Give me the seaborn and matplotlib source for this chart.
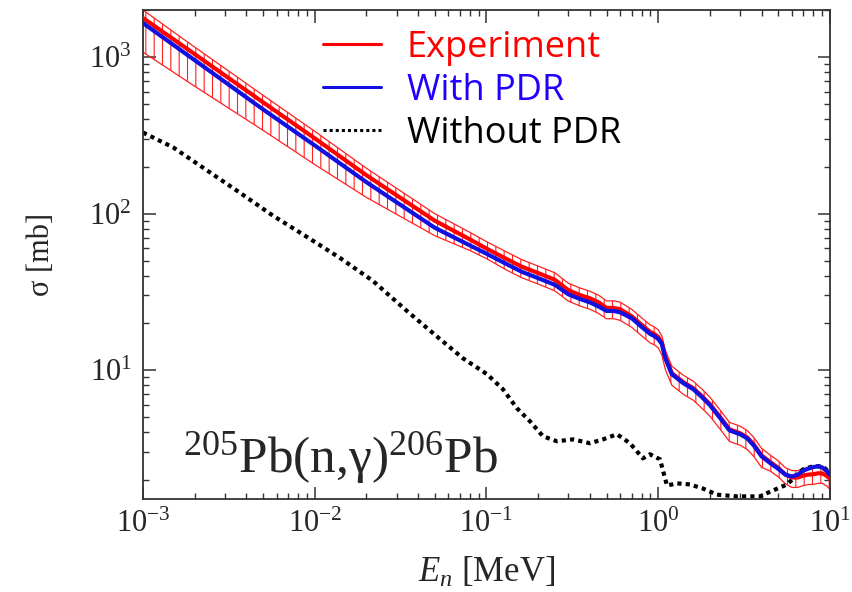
import numpy as np
import pandas as pd
import matplotlib
matplotlib.use("Agg")
import matplotlib.pyplot as plt
import seaborn as sns
from matplotlib.ticker import LogLocator, NullFormatter

# ---- data ----
energy = [0.001, 0.002, 0.005, 0.01, 0.02, 0.05, 0.08, 0.1, 0.13, 0.16, 0.2, 0.25,
          0.3, 0.35, 0.4, 0.45, 0.5, 0.55, 0.6, 0.7, 0.8, 0.9, 0.95, 1.0, 1.05,
          1.1, 1.2, 1.4, 1.6, 1.8, 2.0, 2.3, 2.6, 3.0, 3.3, 3.6, 4.0, 4.5, 5.0,
          5.5, 6.0, 6.5, 7.0, 7.5, 8.0, 8.5, 9.0, 9.5, 10.0]
experiment = [1779, 1046, 515, 303, 176, 90.2, 68.5, 59.8, 51.5, 45.9, 41.7, 37.8,
              32.4, 30.2, 28.8, 27.1, 25.0, 25.0, 24.5, 22.1, 19.5, 17.5, 17.0, 16.3, 14.9,
              12.1, 9.56, 8.37, 7.66, 6.81, 6.06, 4.99, 4.18, 3.95, 3.71, 3.35, 2.85, 2.58, 2.37,
              2.15, 2.06, 2.06, 2.12, 2.15, 2.16, 2.19, 2.19, 2.12, 2.03]
exp_lower = [1077, 652, 341, 206, 127, 72.3, 58.2, 51.6, 43.8, 39.0, 35.5, 32.1,
             27.6, 25.7, 24.5, 23.0, 21.3, 21.3, 20.8, 18.8, 16.6, 14.9, 14.5, 13.9, 12.5,
             10.1, 8.01, 7.01, 6.42, 5.70, 5.08, 4.18, 3.50, 3.31, 3.11, 2.81, 2.39, 2.26, 2.08,
             1.88, 1.78, 1.78, 1.83, 1.86, 1.86, 1.89, 1.89, 1.83, 1.73]
exp_upper = [2001, 1160, 571, 336, 195, 100, 76.0, 66.3, 57.1, 50.9, 46.2, 41.9,
             35.9, 33.5, 31.9, 30.1, 27.7, 27.7, 27.2, 24.5, 21.6, 19.4, 18.9, 18.1, 16.5,
             13.4, 10.6, 9.28, 8.49, 7.55, 6.72, 5.53, 4.64, 4.38, 4.11, 3.72, 3.16, 2.86, 2.63,
             2.38, 2.28, 2.28, 2.35, 2.38, 2.40, 2.43, 2.43, 2.35, 2.25]
with_pdr = [1652, 957, 464, 273, 159, 81.3, 62.7, 55.5, 47.8, 42.6, 38.7, 35.1,
            30.5, 28.5, 27.1, 25.5, 23.9, 23.9, 23.4, 21.5, 18.9, 17.0, 16.5, 15.8, 14.7,
            11.9, 9.42, 8.25, 7.55, 6.71, 5.97, 4.92, 4.12, 3.89, 3.66, 3.30, 2.81, 2.54, 2.34,
            2.15, 2.09, 2.15, 2.28, 2.35, 2.40, 2.43, 2.39, 2.28, 2.15]

energy_wo = [0.001, 0.0015, 0.00236, 0.00367, 0.00571, 0.00901, 0.0140, 0.0218, 0.0344,
             0.0536, 0.0730, 0.1007, 0.1247, 0.1506, 0.1792, 0.2133, 0.2572, 0.3188,
             0.4006, 0.4767, 0.5753, 0.685, 0.8147, 0.8955, 1.024, 1.125, 1.286, 1.531,
             1.823, 2.199, 2.876, 3.911, 4.475, 5.623, 6.966, 7.962, 9.106, 10.0]
without_pdr = [330, 265, 189, 136, 97.1, 71.0, 52.2, 37.2, 23.9,
               15.8, 11.9, 9.42, 7.55, 5.70, 4.71, 3.78, 3.51, 3.61,
               3.41, 3.61, 3.89, 3.41, 2.73, 2.90, 2.69, 1.83, 1.89, 1.86,
               1.75, 1.60, 1.56, 1.56, 1.67, 1.86, 2.32, 2.43, 2.43, 2.19]

labels = ["Experiment", "With PDR", "Without PDR"]

# ---- style ----
sns.set_theme(style="ticks")
plt.rcParams.update({
    "font.family": ["Liberation Serif", "DejaVu Serif"],
    "mathtext.fontset": "custom",
    "mathtext.rm": "Liberation Serif",
    "mathtext.it": "Liberation Serif:italic",
    "mathtext.bf": "Liberation Serif:bold",
    "hatch.linewidth": 0.8,
    "xtick.direction": "in",
    "ytick.direction": "in",
    "xtick.top": True,
    "ytick.right": True,
    "axes.edgecolor": "#333333",
    "axes.linewidth": 1.3,
})

fig = plt.figure(figsize=(8.53, 5.92), dpi=100)
ax = fig.add_axes([0.1676, 0.157, 0.8054, 0.826])
ax.set_xscale("log")
ax.set_yscale("log")

# experimental uncertainty band (hatched)
ax.fill_between(energy, exp_lower, exp_upper, facecolor="none",
                edgecolor="#ff2020", hatch="||", linewidth=0.9, zorder=1)

df_exp = pd.DataFrame({"E": energy, "sigma": experiment})
df_with = pd.DataFrame({"E": energy, "sigma": with_pdr})
df_wo = pd.DataFrame({"E": energy_wo, "sigma": without_pdr})

sns.lineplot(data=df_exp, x="E", y="sigma", ax=ax, color="#ff0000", lw=3.0,
             sort=False, estimator=None, label=labels[0], zorder=3)
sns.lineplot(data=df_with, x="E", y="sigma", ax=ax, color="#1010e0", lw=3.0,
             sort=False, estimator=None, label=labels[1], zorder=4)
sns.lineplot(data=df_wo, x="E", y="sigma", ax=ax, color="black", lw=3.0,
             linestyle=(0, (1, 1)), sort=False, estimator=None, label=labels[2], zorder=2)

ax.set_xlim(1e-3, 10)
ax.set_ylim(1.5, 2000)

ax.xaxis.set_major_locator(LogLocator(base=10))
ax.xaxis.set_minor_locator(LogLocator(base=10, subs=np.arange(2, 10)))
ax.yaxis.set_major_locator(LogLocator(base=10))
ax.yaxis.set_minor_locator(LogLocator(base=10, subs=np.arange(2, 10)))
ax.xaxis.set_minor_formatter(NullFormatter())
ax.yaxis.set_minor_formatter(NullFormatter())

ax.tick_params(which="major", length=9, width=1.1, color="#333333", labelsize=22,
               pad=8, top=True, right=True)
ax.tick_params(which="minor", length=4.5, width=1.0, color="#333333",
               top=True, right=True)

ax.set_xlabel(r"$E_n$ [MeV]", fontsize=25, labelpad=12)
ax.set_ylabel("σ [mb]", fontsize=22, labelpad=24)

ax.text(0.058, 0.055, r"$^{205}$Pb(n,γ)$^{206}$Pb", transform=ax.transAxes,
        fontsize=37, ha="left", va="baseline")

leg = ax.legend(loc="upper left", bbox_to_anchor=(0.3787, 0.950),
                bbox_transform=fig.transFigure, frameon=False,
                prop={"family": "Open Sans", "size": 26},
                handlelength=1.6, handletextpad=0.72, labelspacing=0.2,
                borderpad=0, borderaxespad=0)
for txt, col in zip(leg.get_texts(), ["#ff0000", "#2200ff", "black"]):
    txt.set_color(col)
for h in leg.get_lines():
    h.set_linewidth(2.2)

fig.savefig("out.png", dpi=100)
